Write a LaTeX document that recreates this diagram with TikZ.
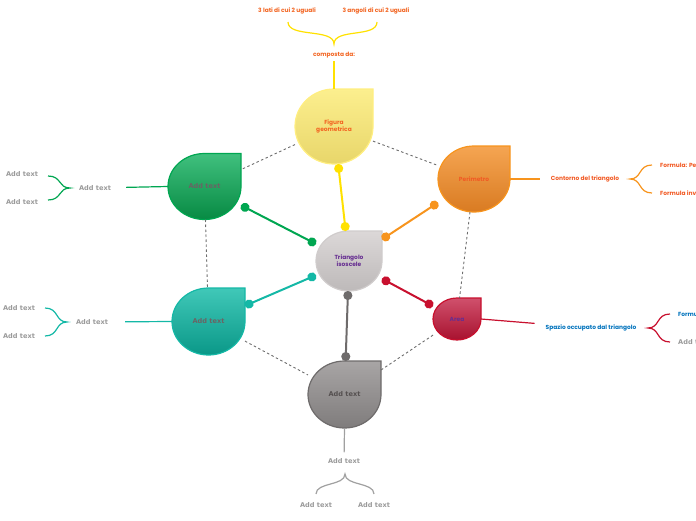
\documentclass[tikz,border=0pt]{standalone}
\usepackage{fontspec}
\setmainfont{Poppins}
\newfontfamily\addfont{DejaVu Sans}
\usetikzlibrary{backgrounds,calc,arrows.meta}
\definecolor{ytop}{HTML}{FCEF8E}\definecolor{ybot}{HTML}{E8D66A}\definecolor{ybrd}{HTML}{FFEE80}\definecolor{yline}{HTML}{FFE100}
\definecolor{gtop}{HTML}{40C07E}\definecolor{gbot}{HTML}{078A43}\definecolor{gbrd}{HTML}{00A651}
\definecolor{otop}{HTML}{F5A552}\definecolor{obot}{HTML}{D97B22}\definecolor{obrd}{HTML}{F7941D}
\definecolor{ctop}{HTML}{DCD8D8}\definecolor{cbot}{HTML}{BDB9B9}\definecolor{cbrd}{HTML}{D0CCCC}
\definecolor{ttop}{HTML}{40C8B8}\definecolor{tbot}{HTML}{0A9888}\definecolor{tbrd}{HTML}{14B8A6}
\definecolor{rtop}{HTML}{D0506C}\definecolor{rbot}{HTML}{A8122F}\definecolor{rbrd}{HTML}{C8102E}
\definecolor{atop}{HTML}{A8A5A5}\definecolor{abot}{HTML}{7F7C7C}\definecolor{abrd}{HTML}{6E6B6B}
\definecolor{orangetxt}{HTML}{F26522}\definecolor{redtxt}{HTML}{F15A24}
\definecolor{purptxt}{HTML}{662D91}\definecolor{bluetxt}{HTML}{0072BC}
\definecolor{addgray}{HTML}{9A9A9A}\definecolor{ingray}{HTML}{6A6464}\definecolor{dashgray}{HTML}{6D6D6D}
\definecolor{lgray}{HTML}{A0A0A0}
\newcommand\dropdraw[4]{%
  \path[draw=#4, line width=1.2pt, top color=#2, bottom color=#3]
    let \p1=($(#1.north east)-(#1.center)$) in
    (#1.north) -- (#1.north east) -- (#1.east)
    arc[start angle=0, end angle=-270, x radius=\x1, y radius=\y1] -- cycle;}
\begin{document}
\begin{tikzpicture}[x=1pt,y=1pt,
  drop/.style={rectangle, inner sep=0pt, outer sep=0pt, align=center,
    font=\bfseries\fontsize{5.9}{6.9}\selectfont},
  ctxt/.style={font=\bfseries\fontsize{5.9}{6.9}\selectfont, inner sep=1pt, align=center},
  addt/.style={font=\addfont\bfseries\fontsize{6.6}{7.6}\selectfont, text=addgray, inner sep=1pt},
  dlink/.style={draw=dashgray, line width=0.9pt, dash pattern=on 2.5pt off 2.5pt},
  dotlink/.style={line width=2pt, {Circle[length=9pt]}-{Circle[length=9pt]}},
  leaf/.style={line width=1.2pt},
  bracestyle/.style={line width=1.2pt}
]
\clip (0,0) rectangle (696,-520);

% drop nodes
\node[drop, minimum width=78pt, minimum height=75pt, text=orangetxt] (fig) at (334,-126.5) {Figura\\geometrica};
\node[drop, minimum width=73pt, minimum height=66pt] (grn) at (204.5,-186.5) {\addfont\fontsize{6.6}{7.6}\selectfont\textcolor{ingray}{Add text}};
\node[drop, minimum width=72pt, minimum height=66pt, text=redtxt] (per) at (474,-179) {Perimetro};
\node[drop, minimum width=66pt, minimum height=60pt, text=purptxt] (tri) at (349,-261) {Triangolo\\isoscele};
\node[drop, minimum width=73pt, minimum height=67pt] (tea) at (208.5,-321.5) {\addfont\fontsize{6.6}{7.6}\selectfont\textcolor{ingray}{Add text}};
\node[drop, minimum width=48pt, minimum height=42pt, text=purptxt] (are) at (457,-319) {Area};
\node[drop, minimum width=73pt, minimum height=67pt] (gry) at (344.5,-394.5) {\addfont\fontsize{6.6}{7.6}\selectfont\textcolor{ingray!80!black}{Add text}};

\begin{pgfonlayer}{background}
\dropdraw{fig}{ytop}{ybot}{ybrd}
\dropdraw{grn}{gtop}{gbot}{gbrd}
\dropdraw{per}{otop}{obot}{obrd}
\dropdraw{tri}{ctop}{cbot}{cbrd}
\dropdraw{tea}{ttop}{tbot}{tbrd}
\dropdraw{are}{rtop}{rbot}{rbrd}
\dropdraw{gry}{atop}{abot}{abrd}
\end{pgfonlayer}

% dashed ring
\draw[dlink] (fig) -- (grn);
\draw[dlink] (fig) -- (per);
\draw[dlink] (grn) -- (tea);
\draw[dlink] (per) -- (are);
\draw[dlink] (tea) -- (gry);
\draw[dlink] (are) -- (gry);

% dot links to centre
\draw[dotlink, yline] (fig) -- (tri);
\draw[dotlink, obrd] (per) -- (tri);
\draw[dotlink, gbrd] (grn) -- (tri);
\draw[dotlink, tbrd] (tea) -- (tri);
\draw[dotlink, rbrd] (are) -- (tri);
\draw[dotlink, abrd] (gry) -- (tri);

% top branch
\node[ctxt, text=orangetxt] (comp) at (334,-55) {composta da:};
\node[ctxt, text=orangetxt] (t1) at (287,-11) {3 lati di cui 2 uguali};
\node[ctxt, text=orangetxt] (t2) at (376,-11) {3 angoli di cui 2 uguali};
\draw[leaf, yline] (fig.north) -- (comp.north) [shorten >=10pt];
\coordinate (yb) at (334,-44);
\coordinate (yb1) at (288,-22);
\coordinate (yb2) at (377,-22);
\draw[bracestyle, yline] (yb1) .. controls +(0,-16) and +(0,16) .. (yb) .. controls +(0,16) and +(0,-16) .. (yb2);

% green branch
\node[addt] (gadd) at (95,-188) {Add text};
\node[addt] (g1) at (22,-174) {Add text};
\node[addt] (g2) at (22,-202) {Add text};
\draw[leaf, gbrd, shorten >=14pt] (grn.west) -- (gadd);
\coordinate (gb) at (70,-188);
\coordinate (gb1) at (48,-176);
\coordinate (gb2) at (48,-200);
\draw[bracestyle, gbrd] (gb1) .. controls +(14,0) and +(-12,0) .. (gb) .. controls +(-12,0) and +(14,0) .. (gb2);

% teal branch
\node[addt] (tadd) at (92,-322) {Add text};
\node[addt] (ta1) at (19,-308) {Add text};
\node[addt] (ta2) at (19,-336) {Add text};
\draw[leaf, tbrd, shorten >=16pt] (tea.west) -- (tadd);
\coordinate (tb) at (67,-322);
\coordinate (tb1) at (45,-308);
\coordinate (tb2) at (45,-336);
\draw[bracestyle, tbrd] (tb1) .. controls +(14,0) and +(-12,0) .. (tb) .. controls +(-12,0) and +(14,0) .. (tb2);

% orange branch
\node[ctxt, text=redtxt] (cont) at (585,-179) {Contorno del triangolo};
\node[ctxt, text=redtxt, anchor=west] (f1) at (659,-165) {Formula: Perimetro};
\node[ctxt, text=redtxt, anchor=west] (f2) at (659,-193) {Formula inversa};
\draw[leaf, obrd, shorten >=10pt] (per.east) -- (cont);
\coordinate (ob) at (630,-179);
\coordinate (ob1) at (652,-165);
\coordinate (ob2) at (652,-193);
\draw[bracestyle, obrd] (ob1) .. controls +(-14,0) and +(12,0) .. (ob) .. controls +(12,0) and +(-14,0) .. (ob2);

% red branch
\node[ctxt, text=bluetxt] (spa) at (591,-328) {Spazio occupato dal triangolo};
\node[ctxt, text=bluetxt, anchor=west] (r1) at (677,-314) {Formula};
\node[addt, anchor=west] (r2) at (677,-342) {Add text};
\draw[leaf, rbrd, shorten >=10pt] (are.east) -- (spa);
\coordinate (rb) at (648,-328);
\coordinate (rb1) at (670,-314);
\coordinate (rb2) at (670,-342);
\draw[bracestyle, rbrd] (rb1) .. controls +(-14,0) and +(12,0) .. (rb) .. controls +(12,0) and +(-14,0) .. (rb2);

% gray branch
\node[addt] (badd) at (344,-461) {Add text};
\node[addt] (b1) at (316,-505) {Add text};
\node[addt] (b2) at (374,-505) {Add text};
\draw[leaf, lgray, shorten >=5pt] (gry.south) -- (badd);
\coordinate (bb) at (345,-474);
\coordinate (bb1) at (316,-494);
\coordinate (bb2) at (374,-494);
\draw[bracestyle, lgray] (bb1) .. controls +(0,12) and +(0,-12) .. (bb) .. controls +(0,-12) and +(0,12) .. (bb2);
\end{tikzpicture}
\end{document}
